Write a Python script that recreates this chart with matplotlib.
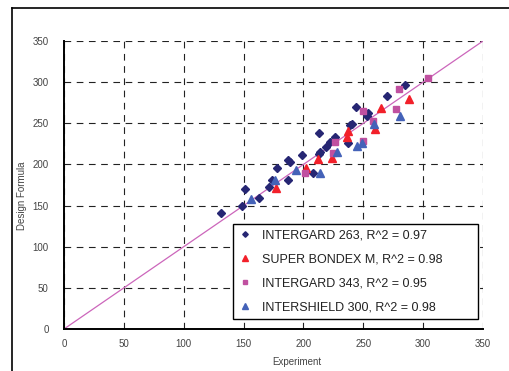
import numpy as np
import matplotlib
matplotlib.use('Agg')
import matplotlib.pyplot as plt
from matplotlib.lines import Line2D

plt.rcParams['font.family'] = ['Liberation Sans', 'DejaVu Sans']

# INTERGARD 263 (diamonds)
ig263_x = [131, 149, 151, 163, 171, 174, 178, 187, 187, 189, 199, 208, 213,
           214, 213, 219, 222, 226, 237, 239, 241, 244, 253, 254, 270, 285]
ig263_y = [141, 150, 170, 159, 173, 181, 196, 181, 205, 203, 212, 189, 213,
           215, 238, 221, 227, 233, 226, 248, 249, 270, 259, 262, 283, 296]

# SUPER BONDEX M (red triangles)
sb_x = [177, 202, 212, 224, 236, 237, 260, 265, 288]
sb_y = [171, 196, 206, 208, 233, 241, 243, 268, 279]

# INTERGARD 343 (squares)
ig343_x = [201, 225, 226, 250, 250, 258, 277, 280, 304]
ig343_y = [189, 214, 227, 228, 265, 253, 267, 292, 305]

# INTERSHIELD 300 (blue triangles)
is300_x = [156, 176, 194, 214, 228, 245, 249, 259, 281]
is300_y = [158, 181, 193, 190, 215, 222, 226, 249, 259]

labels = ['INTERGARD 263, R^2 = 0.97', 'SUPER BONDEX M, R^2 = 0.98',
          'INTERGARD 343, R^2 = 0.95', 'INTERSHIELD 300, R^2 = 0.98']
ticks = [0, 50, 100, 150, 200, 250, 300, 350]


def plot():
    fig = plt.figure(figsize=(5.1, 3.71), dpi=100)
    ax = fig.add_axes([0.1255, 0.1132, 0.8215, 0.7763])

    # outer frame of the chart area (left + top edges only visible)
    fig.add_artist(Line2D([12 / 510, 12 / 510], [0, 1 - 8 / 371], transform=fig.transFigure,
                          color='black', lw=1.2))
    fig.add_artist(Line2D([12 / 510, 1], [1 - 8 / 371, 1 - 8 / 371], transform=fig.transFigure,
                          color='black', lw=1.2))

    ax.plot([0, 350], [0, 350], color='#CC66BB', lw=0.9, zorder=2)

    ax.plot(ig263_x, ig263_y, 'D', color='#262673', ms=4, ls='none', label=labels[0], zorder=3)
    ax.plot(sb_x, sb_y, '^', color='#F2202A', ms=6, ls='none', label=labels[1], zorder=3)
    ax.plot(ig343_x, ig343_y, 's', color='#C050A0', ms=4.5, ls='none', label=labels[2], zorder=3)
    ax.plot(is300_x, is300_y, '^', color='#4462B8', ms=6, ls='none', label=labels[3], zorder=3)

    ax.set_xlim(0, 350)
    ax.set_ylim(0, 350)
    ax.set_xticks(ticks)
    ax.set_yticks(ticks)
    ax.tick_params(length=0, labelsize=7, labelcolor='#444444')
    ax.tick_params(axis='y', pad=11)
    ax.tick_params(axis='x', pad=7)
    ax.grid(True, color='#222222', lw=0.8, linestyle=(0, (6, 5)))
    ax.set_axisbelow(True)
    for side in ['top', 'right']:
        ax.spines[side].set_visible(False)
    for side in ['left', 'bottom']:
        ax.spines[side].set_linewidth(1.4)

    ax.set_xlabel('Experiment', fontsize=7, color='#444444')
    ax.set_ylabel('Design Formula', fontsize=7, color='#444444')
    ax.xaxis.set_label_coords(0.556, -0.098)
    ax.yaxis.set_label_coords(-0.088, 0.462)

    leg = ax.legend(loc='lower left', bbox_to_anchor=(0.403, 0.035, 0.585, 0.326),
                    mode='expand', fontsize=9, frameon=True, fancybox=False,
                    edgecolor='black', framealpha=1, borderaxespad=0,
                    handlelength=1.0, handletextpad=0.9, markerscale=0.7,
                    labelspacing=0.95, borderpad=0.45)
    leg.get_frame().set_linewidth(1.0)
    leg.set_zorder(5)
    for t in leg.get_texts():
        t.set_color('#222222')

    fig.savefig('out.png', dpi=100)


def main():
    plot()


if __name__ == '__main__':
    main()
